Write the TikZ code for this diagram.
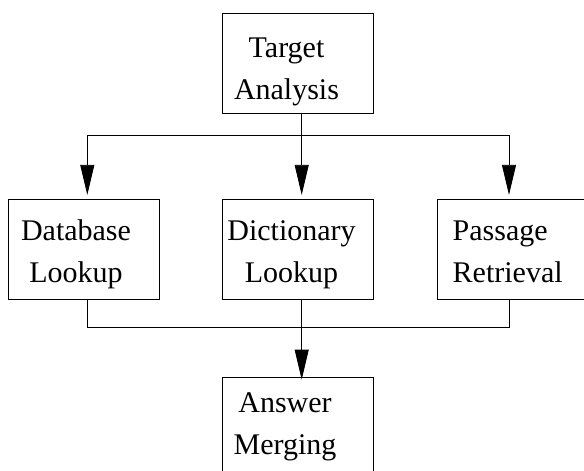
\documentclass[tikz,border=0pt]{standalone}
\usepackage{fontspec}
\setmainfont{Liberation Serif}
\usetikzlibrary{arrows.meta}
\usetikzlibrary{positioning}
\tikzstyle{block} = [draw, rectangle, line width=0.8pt, minimum width=150.6pt,
minimum height=100pt, inner sep=0pt]
\tikzstyle{wire} = [draw, line width=0.8pt]
\tikzstyle{line} = [wire, -{Triangle[length=30pt,width=14pt]}]

\begin{document}
\begin{tikzpicture}[x=1pt, y=1pt,
	txt/.style={align=center, inner sep=0pt, font=\fontsize{30}{42}\selectfont}]
	\useasboundingbox (0,0) rectangle (584,-471);
	\node [block] at (298,-63.3) (target) {};
	\node [block] at (83.7,-249.3) (database) {};
	\node [block] at (298,-249.3) (dictionary) {};
	\node [block] at (512.6,-249.3) (passage) {};
	\node [block] at (298,-427.7) (answer) {};
    % Texts
    \node [txt] at ([xshift=-11.5pt, yshift=-6.3pt]target.center) (targetText) {\strut Target\\\strut Analysis};
    \node [txt] at ([xshift=-7.7pt, yshift=-3.3pt]database.center) (databaseText) {\strut Database\\\strut Lookup};
    \node [txt] at ([xshift=-6.5pt, yshift=-3.3pt]dictionary.center) (dictionaryText) {\strut Dictionary\\\strut Lookup};
    \node [txt, align=left, anchor=west] at ([xshift=-60.1pt, yshift=-3.3pt]passage.center) (passageText) {\strut Passage\\\strut Retrieval};
    \node [txt] at ([xshift=-13pt, yshift=2.4pt]answer.center) (answerText) {\strut Answer\\\strut Merging};
	%% Flows
    \coordinate (split) at (301.7,-135);
    \coordinate (join) at (301.7,-327.5);
    % Fan out
	\path [line] ([xshift=3.7pt]target.south) -- ([xshift=3.7pt, yshift=4pt]dictionary.north);
	\path [line] (split) -| ([xshift=3.6pt, yshift=4pt]database.north);
	\path [line] (split) -| ([xshift=-3.6pt, yshift=4pt]passage.north);
    % Merge
	\path [wire] ([xshift=3.6pt]database.south) |- (join) -| ([xshift=-3.6pt]passage.south);
	\path [line] ([xshift=3.7pt]dictionary.south) -- ([xshift=3.7pt, yshift=-2.3pt]answer.north);
\end{tikzpicture}
\end{document}
